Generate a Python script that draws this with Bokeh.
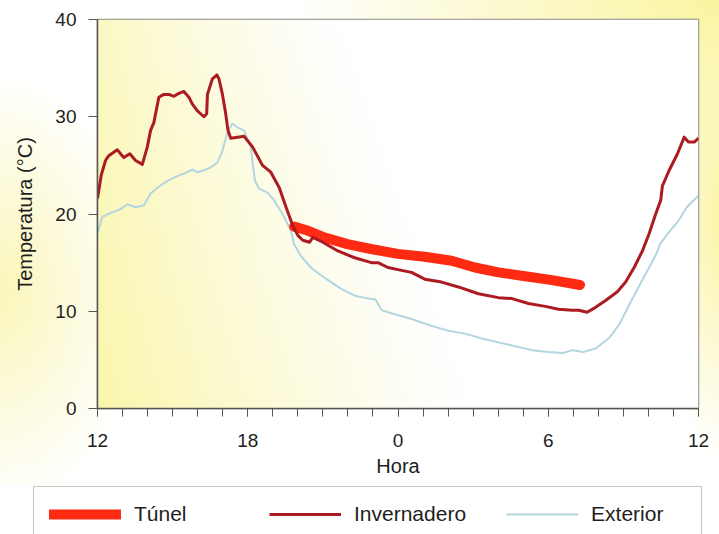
import numpy as np
from bokeh.plotting import figure
from bokeh.models import FixedTicker, Legend, LegendItem, Range1d
from bokeh.embed import file_html
from bokeh.resources import INLINE

# Hours counted from 12:00 (0 = 12h, 12 = 0h, 24 = 12h next day)
hora_inv = [0.0, 0.15, 0.32, 0.45, 0.79, 1.05, 1.29, 1.52, 1.79, 1.99, 2.12, 2.25, 2.45, 2.65,
            2.85, 3.05, 3.25, 3.45, 3.65, 3.79, 3.99, 4.25, 4.36, 4.39, 4.59, 4.77, 4.85, 4.99,
            5.12, 5.21, 5.32, 5.6, 5.85, 6.19, 6.59, 6.92, 7.26, 7.53, 7.8, 8.0, 8.2, 8.47, 8.6,
            9.0, 9.6, 10.27, 10.94, 11.2, 11.6, 12.14, 12.54, 13.07, 13.74, 14.41, 15.21, 16.01,
            16.55, 17.21, 17.88, 18.41, 18.97, 19.22, 19.55, 19.89, 20.29, 20.76, 21.09, 21.43,
            21.76, 22.03, 22.29, 22.49, 22.56, 22.83, 23.16, 23.43, 23.6, 23.83, 24.0]
temp_inv = [21.6, 24.0, 25.5, 26.0, 26.6, 25.8, 26.2, 25.5, 25.1, 26.9, 28.6, 29.4, 32.0, 32.3,
            32.3, 32.1, 32.4, 32.6, 32.0, 31.3, 30.6, 30.0, 30.3, 32.3, 33.9, 34.3, 33.9, 32.3,
            30.3, 28.6, 27.8, 27.9, 28.0, 26.9, 25.0, 24.3, 22.7, 20.7, 18.8, 17.8, 17.3, 17.1, 17.6,
            17.1, 16.2, 15.5, 15.0, 15.0, 14.5, 14.2, 14.0, 13.3, 13.0, 12.5, 11.8, 11.4,
            11.3, 10.8, 10.5, 10.2, 10.1, 10.1, 9.9, 10.4, 11.1, 12.0, 13.0, 14.5,
            16.2, 18.0, 20.0, 21.4, 22.9, 24.5, 26.2, 27.9, 27.4, 27.4, 27.8]

hora_ext = [0.0, 0.19, 0.52, 0.92, 1.19, 1.52, 1.85, 2.12, 2.39, 2.79, 3.19, 3.59, 3.79, 3.99,
            4.25, 4.52, 4.79, 4.99, 5.19, 5.39, 5.59, 5.85, 6.12, 6.28, 6.45, 6.79, 7.05, 7.39,
            7.72, 7.85, 8.12, 8.52, 8.92, 9.33, 9.73, 10.27, 10.81, 11.1, 11.35, 11.87, 12.54,
            13.34, 14.01, 14.68, 15.35, 16.01, 16.68, 17.35, 18.01, 18.58, 18.98, 19.38, 19.91,
            20.45, 20.85, 21.3, 21.65, 22.05, 22.3, 22.46, 22.87, 23.2, 23.53, 24.0]
temp_ext = [18.0, 19.7, 20.1, 20.5, 21.0, 20.7, 20.9, 22.1, 22.7, 23.4, 23.9, 24.3, 24.6, 24.3,
            24.5, 24.8, 25.3, 26.5, 28.4, 29.3, 28.9, 28.6, 26.9, 23.5, 22.6, 22.2, 21.4, 20.0,
            18.3, 16.9, 15.7, 14.5, 13.7, 13.0, 12.3, 11.6, 11.3, 11.2, 10.1, 9.7, 9.2,
            8.5, 8.0, 7.7, 7.2, 6.8, 6.4, 6.0, 5.8, 5.7, 6.0, 5.8, 6.2,
            7.3, 8.7, 11.0, 12.7, 14.6, 15.8, 16.9, 18.3, 19.3, 20.7, 21.9]

hora_tun = [7.85, 8.39, 9.05, 9.98, 10.92, 11.99, 13.07, 14.14, 15.07, 16.01, 17.08, 18.15, 19.27]
temp_tun = [18.7, 18.3, 17.6, 16.9, 16.4, 15.9, 15.6, 15.2, 14.5, 14.0, 13.6, 13.2, 12.7]

series_names = ["Túnel", "Invernadero", "Exterior"]

x_ticks = [0, 6, 12, 18, 24]
x_tick_labels = ["12", "18", "0", "6", "12"]
x_minor_ticks = list(range(25))
y_ticks = [0, 10, 20, 30, 40]

FONT = "Liberation Sans"
STYLE_EXT = dict(line_color="#b3d5df", line_width=2)
STYLE_TUN = dict(line_color="#ff2a12", line_width=10, line_cap="round", line_join="round")
STYLE_INV = dict(line_color="#ad1b22", line_width=3, line_join="round")

p = figure(width=719, height=486, output_backend="svg", toolbar_location=None,
           x_range=Range1d(0, 24), y_range=Range1d(0, 40),
           min_border_left=97, min_border_top=19, min_border_right=21, min_border_bottom=78)

p.border_fill_alpha = 0
p.background_fill_alpha = 0
p.styles = {
    "background-color": "white",
    "background-image": (
        "radial-gradient(ellipse 60% 42% at 100% 0%, rgba(250,244,160,1) 0%, rgba(250,244,160,0) 100%), "
        "radial-gradient(ellipse 8% 50% at 100% 45%, rgba(250,244,165,1) 0%, rgba(250,244,165,0) 100%), "
        "radial-gradient(ellipse 20% 45% at 0% 60%, rgba(250,246,185,1) 0%, rgba(250,246,185,0) 100%)"
    ),
}

# plot-area background shading
nx, ny = 160, 100
gx, gy = np.meshgrid(np.linspace(0, 1, nx), np.linspace(0, 1, ny))
reach = 0.40 + 0.22 * (1 - gy)
inten = np.clip(1 - gx / reach, 0, 1) ** 1.2 * (0.7 + 0.3 * (1 - gy))
img = np.empty((ny, nx), dtype=np.uint32)
view = img.view(dtype=np.uint8).reshape((ny, nx, 4))
view[..., 0] = (255 - inten * 5).astype(np.uint8)
view[..., 1] = (255 - inten * 9).astype(np.uint8)
view[..., 2] = (255 - inten * 82).astype(np.uint8)
view[..., 3] = 255
p.image_rgba(image=[img], x=0, y=0, dw=24, dh=40)

p.line(hora_ext, temp_ext, **STYLE_EXT)
p.line(hora_tun, temp_tun, **STYLE_TUN)
p.line(hora_inv, temp_inv, **STYLE_INV)

# axes
p.xaxis.ticker = FixedTicker(ticks=x_ticks, minor_ticks=x_minor_ticks)
p.xaxis.major_label_overrides = {t: l for t, l in zip(x_ticks, x_tick_labels)}
p.xaxis.axis_label = "Hora"
p.yaxis.ticker = FixedTicker(ticks=y_ticks)
p.yaxis.axis_label = "Temperatura (°C)"

for ax in (p.xaxis[0], p.yaxis[0]):
    ax.axis_line_color = "#555555"
    ax.axis_line_width = 1.5
    ax.major_tick_line_color = "#555555"
    ax.minor_tick_line_color = "#555555"
    ax.major_tick_in = 0
    ax.minor_tick_in = 0
    ax.major_label_text_font = FONT
    ax.major_label_text_font_size = "19px"
    ax.major_label_text_color = "#1e1e1e"
    ax.axis_label_text_font = FONT
    ax.axis_label_text_font_style = "normal"
    ax.axis_label_text_color = "#1e1e1e"

p.xaxis.major_tick_out = 8
p.xaxis.minor_tick_out = 8
p.xaxis.major_label_standoff = 17
p.xaxis.axis_label_standoff = 5
p.xaxis.axis_label_text_font_size = "20px"

p.yaxis.major_tick_out = 9
p.yaxis.minor_tick_line_color = None
p.yaxis.major_label_standoff = 12
p.yaxis.axis_label_standoff = 16
p.yaxis.axis_label_text_font_size = "20px"

p.xgrid.visible = False
p.ygrid.ticker = FixedTicker(ticks=y_ticks)
p.ygrid.grid_line_color = "#7a7a66"
p.ygrid.grid_line_width = 1.5

p.outline_line_color = "#8a8a80"
p.outline_line_width = 1.5

# legend strip below the chart (its own canvas so the legend is not clipped)
pl = figure(width=719, height=48, output_backend="svg", toolbar_location=None,
            x_range=Range1d(0, 1), y_range=Range1d(-100, -99),
            x_axis_location=None, y_axis_location=None, min_border=0)
pl.grid.visible = False
pl.outline_line_color = None
pl.background_fill_color = "white"
pl.border_fill_color = "white"
# same series drawn off-range: only used as legend samples
l_tun = pl.line(hora_tun, temp_tun, **STYLE_TUN)
l_inv = pl.line(hora_inv, temp_inv, **STYLE_INV)
l_ext = pl.line(hora_ext, temp_ext, **STYLE_EXT)

legend = Legend(
    items=[LegendItem(label=series_names[0], renderers=[l_tun]),
           LegendItem(label=series_names[1], renderers=[l_inv]),
           LegendItem(label=series_names[2], renderers=[l_ext])],
    orientation="horizontal", location=(33, -8), margin=0,
    padding=15, spacing=40, glyph_width=72, glyph_height=20, label_height=20,
    label_width=95, label_standoff=13,
    label_text_font=FONT, label_text_font_size="21px", label_text_color="#1e1e1e",
    border_line_color="#8c8c8c", border_line_width=1.5,
    background_fill_color="white", background_fill_alpha=1,
)
pl.add_layout(legend, "center")

open("out.html", "w").write(file_html([p, pl], INLINE))
